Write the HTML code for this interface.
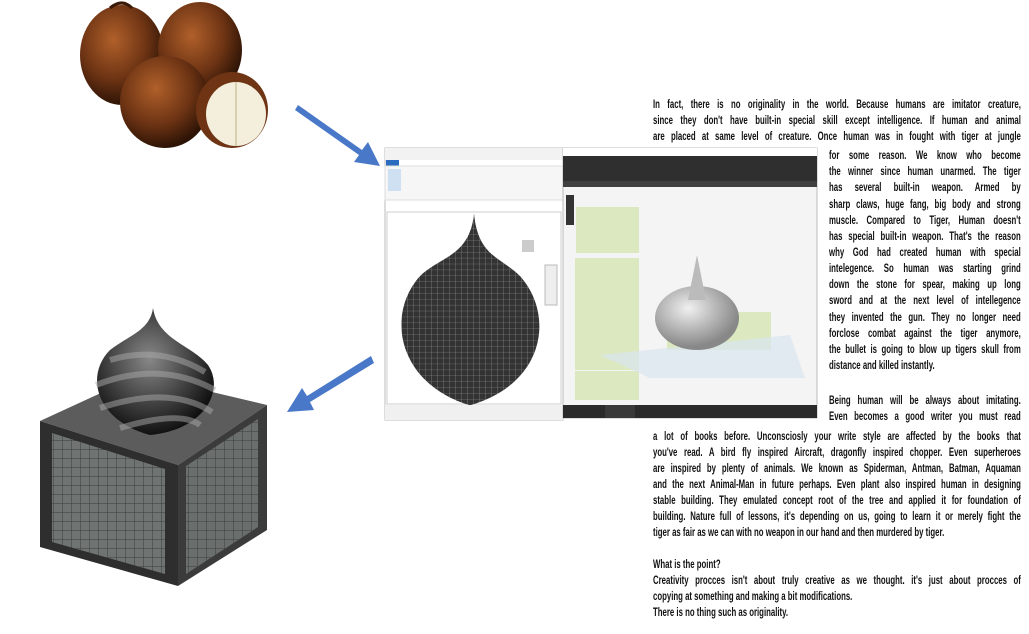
<!DOCTYPE html>
<html><head><meta charset="utf-8"><style>
body{margin:0;width:1029px;height:634px;background:#fff;position:relative;overflow:hidden;font-family:"Liberation Sans",sans-serif;}
.l{position:absolute;font-size:12px;font-weight:bold;line-height:14px;color:#111;white-space:nowrap;text-align:justify;text-align-last:justify;transform:scaleX(0.65);transform-origin:0 0;}
.w{left:653px;width:566px}
.r{left:829px;width:295px}
.n{text-align-last:left;text-align:left}
svg{position:absolute;left:0;top:0}
</style></head><body>
<svg width="1029" height="634">
<defs>
<radialGradient id="fr" cx="40%" cy="35%" r="65%"><stop offset="0" stop-color="#b0602a"/><stop offset=".6" stop-color="#6e3414"/><stop offset="1" stop-color="#2e1406"/></radialGradient>
<radialGradient id="dm" cx="45%" cy="40%" r="60%"><stop offset="0" stop-color="#888"/><stop offset="1" stop-color="#111"/></radialGradient>
<radialGradient id="dy" cx="40%" cy="35%" r="60%"><stop offset="0" stop-color="#f0f0f0"/><stop offset="1" stop-color="#888"/></radialGradient>
<pattern id="grid" width="9" height="9" patternUnits="userSpaceOnUse"><rect width="9" height="9" fill="#6f7473"/><path d="M9 0V9H0" fill="none" stroke="#3a3d3d" stroke-width="1"/></pattern>
<pattern id="mesh" width="6" height="6" patternUnits="userSpaceOnUse"><rect width="6" height="6" fill="#333"/><path d="M6 0V6H0" fill="none" stroke="#999" stroke-width=".6"/></pattern>
</defs>
<ellipse cx="122" cy="55" rx="42" ry="50" fill="url(#fr)"/>
<ellipse cx="200" cy="50" rx="42" ry="48" fill="url(#fr)"/>
<ellipse cx="165" cy="102" rx="45" ry="46" fill="url(#fr)"/>
<path d="M110 8 q12 -10 22 0" stroke="#3a1a08" stroke-width="3" fill="none"/>
<ellipse cx="232" cy="110" rx="36" ry="38" fill="#6e3414"/>
<ellipse cx="236" cy="114" rx="30" ry="32" fill="#f3efdc"/>
<path d="M236 82 V146" stroke="#d8d0b0" stroke-width="2"/>
<path d="M298 105 L362 150 L368 142 L380 166 L354 162 L359 155 L295 110Z" fill="#4a78c8"/>
<path d="M371 356 L307 396 L302 388 L287 412 L314 410 L310 402 L374 363Z" fill="#4a78c8"/>
<rect x="385" y="148" width="178" height="272" fill="#fff" stroke="#bbb"/>
<rect x="385" y="148" width="178" height="12" fill="#f2f2f2"/>
<rect x="386" y="160" width="13" height="6" fill="#2a6bbf"/>
<rect x="385" y="166" width="178" height="34" fill="#f6f6f6" stroke="#ddd"/>
<rect x="388" y="169" width="13" height="22" fill="#cfe0f3"/>
<rect x="387" y="212" width="174" height="192" fill="#fff" stroke="#ccc"/>
<path d="M474 236 C470 280 440 280 420 300 C385 340 398 410 470 432 C545 410 555 340 520 300 C500 280 478 280 474 236Z" fill="url(#mesh)" transform="translate(0,-18) scale(1 0.98)"/>
<rect x="522" y="240" width="12" height="12" fill="#ccc"/>
<rect x="545" y="265" width="12" height="40" fill="#eee" stroke="#bbb"/>
<rect x="385" y="405" width="178" height="15" fill="#f0f0f0"/>
<rect x="563" y="148" width="254" height="270" fill="#f4f4f4" stroke="#bbb"/>
<rect x="563" y="148" width="254" height="8" fill="#fff"/>
<rect x="563" y="156" width="254" height="30" fill="#2f2f2f"/>
<rect x="563" y="181" width="254" height="6" fill="#3f3f3f"/>
<rect x="566" y="195" width="8" height="30" fill="#333"/>
<g fill="#dce8bf">
<rect x="576" y="207" width="63" height="46"/>
<rect x="575" y="258" width="64" height="42"/>
<rect x="575" y="284" width="64" height="38"/>
<rect x="575" y="311" width="64" height="38"/>
<rect x="575" y="340" width="64" height="30"/>
<rect x="575" y="371" width="64" height="29"/>
<rect x="667" y="312" width="104" height="38"/>
</g>
<path d="M600 355 L790 335 L805 378 L650 378Z" fill="#d8e6ef" opacity=".7"/>
<ellipse cx="697" cy="318" rx="42" ry="32" fill="url(#dy)"/>
<path d="M697 255 L688 300 L706 300Z" fill="#bbb"/>
<rect x="563" y="405" width="254" height="13" fill="#2a2a2a"/>
<rect x="605" y="405" width="30" height="13" fill="#3a3a3a"/>
<polygon points="40,421 178,465 267,405 140,375" fill="#5c5c5c"/>
<polygon points="40,421 178,465 178,586 40,547" fill="#2e2e2e"/>
<polygon points="178,465 267,405 267,530 178,586" fill="#3b3b3b"/>
<polygon points="52,433 165,469 165,574 52,542" fill="url(#grid)"/>
<polygon points="186,466 258,419 258,527 186,574" fill="url(#grid)" opacity=".9"/>
<path d="M153 308 C150 330 130 335 110 350 C85 375 95 420 150 435 C205 430 225 390 208 365 C192 345 158 340 153 308Z" fill="url(#dm)"/>
<path d="M110 360 Q160 345 205 372 M96 385 Q160 360 215 390 M100 408 Q170 385 212 412 M120 428 Q180 410 200 425" stroke="#aaa" stroke-width="6" fill="none" opacity=".5"/>
</svg>
<div class="l w" style="top:97px">In fact, there is no originality in the world. Because humans are imitator creature,</div>
<div class="l w" style="top:113px">since they don't have built-in special skill except intelligence. If human and animal</div>
<div class="l w" style="top:129px">are placed at same level of creature. Once human was in fought with tiger at jungle</div>
<div class="l r" style="top:148px">for some reason. We know who become</div>
<div class="l r" style="top:164px">the winner since human unarmed. The tiger</div>
<div class="l r" style="top:180px">has several built-in weapon. Armed by</div>
<div class="l r" style="top:197px">sharp claws, huge fang, big body and strong</div>
<div class="l r" style="top:213px">muscle. Compared to Tiger, Human doesn't</div>
<div class="l r" style="top:229px">has special built-in weapon. That's the reason</div>
<div class="l r" style="top:245px">why God had created human with special</div>
<div class="l r" style="top:261px">intelegence. So human was starting grind</div>
<div class="l r" style="top:277px">down the stone for spear, making up long</div>
<div class="l r" style="top:293px">sword and at the next level of intellegence</div>
<div class="l r" style="top:310px">they invented the gun. They no longer need</div>
<div class="l r" style="top:326px">forclose combat against the tiger anymore,</div>
<div class="l r" style="top:342px">the bullet is going to blow up tigers skull from</div>
<div class="l r n" style="top:358px">distance and killed instantly.</div>
<div class="l r" style="top:393px">Being human will be always about imitating.</div>
<div class="l r" style="top:409px">Even becomes a good writer you must read</div>
<div class="l w" style="top:429px">a lot of books before. Unconsciosly your write style are affected by the books that</div>
<div class="l w" style="top:445px">you've read. A bird fly inspired Aircraft, dragonfly inspired chopper. Even superheroes</div>
<div class="l w" style="top:461px">are inspired by plenty of animals. We known as Spiderman, Antman, Batman, Aquaman</div>
<div class="l w" style="top:477px">and the next Animal-Man in future perhaps. Even plant also inspired human in designing</div>
<div class="l w" style="top:493px">stable building. They emulated concept root of the tree and applied it for foundation of</div>
<div class="l w" style="top:509px">building. Nature full of lessons, it's depending on us, going to learn it or merely fight the</div>
<div class="l w n" style="top:525px">tiger as fair as we can with no weapon in our hand and then murdered by tiger.</div>
<div class="l w n" style="top:557px">What is the point?</div>
<div class="l w" style="top:573px">Creativity procces isn't about truly creative as we thought. it's just about procces of</div>
<div class="l w n" style="top:589px">copying at something and making a bit modifications.</div>
<div class="l w n" style="top:605px">There is no thing such as originality.</div>
</body></html>
